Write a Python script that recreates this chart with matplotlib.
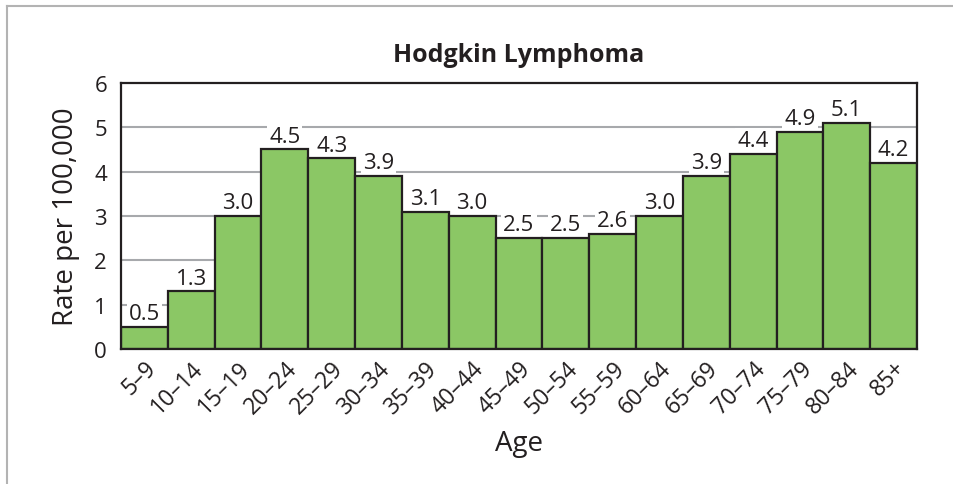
import numpy as np
import matplotlib
matplotlib.use("Agg")
import matplotlib.pyplot as plt
from matplotlib.lines import Line2D

plt.rcParams['font.family'] = ['Open Sans', 'DejaVu Sans']

# data
age_groups = ["5–9", "10–14", "15–19", "20–24", "25–29", "30–34", "35–39",
              "40–44", "45–49", "50–54", "55–59", "60–64", "65–69", "70–74",
              "75–79", "80–84", "85+"]
rates = [0.5, 1.3, 3.0, 4.5, 4.3, 3.9, 3.1, 3.0, 2.5, 2.5, 2.6, 3.0,
         3.9, 4.4, 4.9, 5.1, 4.2]
y_ticks = [0, 1, 2, 3, 4, 5, 6]

BAR_COLOR = "#8bc765"
EDGE_COLOR = "#231f20"
GRID_COLOR = "#a7a9ac"

fig = plt.figure(figsize=(9.54, 4.85), dpi=100)
ax = fig.add_axes([0.1268, 0.2784, 0.8344, 0.5484])

x = np.arange(len(age_groups))
ax.bar(x, rates, width=1.0, color=BAR_COLOR, edgecolor=EDGE_COLOR,
       linewidth=1.6, zorder=3)

# value labels above bars (white box hides gridlines, sits under the bars)
for xi, r in zip(x, rates):
    ax.text(xi, r + 0.06, f"{r:.1f}", ha="center", va="bottom", fontsize=16,
            color="#231f20", zorder=2,
            bbox=dict(facecolor="white", edgecolor="none", pad=1.5))

ax.set_xlim(-0.5, len(age_groups) - 0.5)
ax.set_ylim(0, 6)
ax.set_yticks(y_ticks)
ax.set_xticks(x)
ax.set_xticklabels(age_groups, rotation=45, ha="right", va="top",
                   rotation_mode="anchor", fontsize=16.5)
ax.tick_params(axis="y", length=0, labelsize=16, colors="#231f20", pad=10)
ax.tick_params(axis="x", length=0, colors="#231f20", pad=5)

for gy in y_ticks[1:-1]:
    ax.axhline(gy, color=GRID_COLOR, linewidth=1.5, zorder=1)

for sp in ax.spines.values():
    sp.set_color(EDGE_COLOR)
    sp.set_linewidth(1.6)
    sp.set_zorder(4)

ax.set_title("Hodgkin Lymphoma", fontsize=18, fontweight="bold",
             color="#231f20", pad=16)
ax.set_ylabel("Rate per 100,000", fontsize=20, color="#231f20", labelpad=10)
ax.set_xlabel("Age", fontsize=20, color="#231f20", labelpad=8)

# frame around the figure (only top and left visible)
fig.add_artist(Line2D([7 / 954, 1], [1 - 7 / 485, 1 - 7 / 485],
                      color="#b3b3b3", linewidth=1.5, transform=fig.transFigure))
fig.add_artist(Line2D([7 / 954, 7 / 954], [0, 1 - 7 / 485],
                      color="#b3b3b3", linewidth=1.5, transform=fig.transFigure))

fig.savefig("out.png", dpi=100, facecolor="white")
